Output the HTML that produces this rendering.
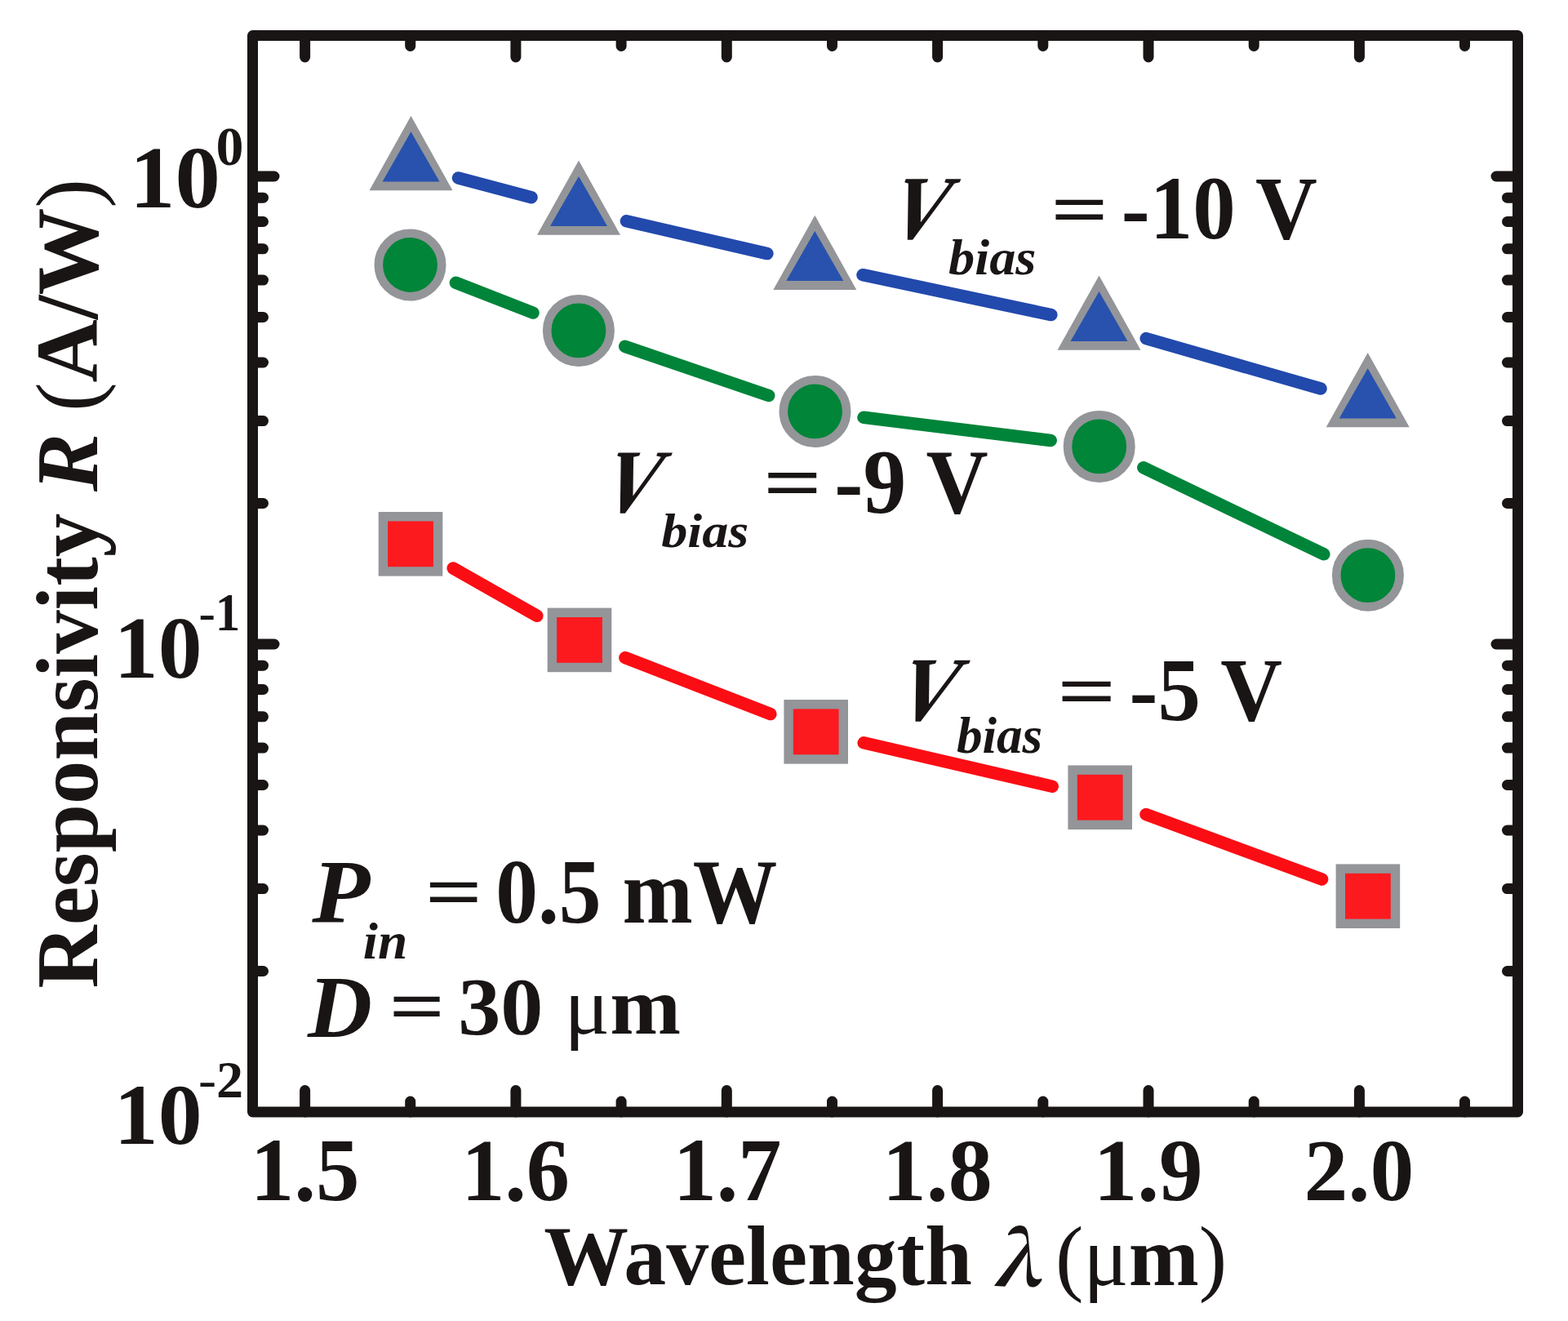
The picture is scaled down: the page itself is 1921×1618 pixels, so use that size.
<!DOCTYPE html>
<html><head><meta charset="utf-8"><title>Responsivity vs Wavelength</title>
<style>html,body{margin:0;padding:0;background:#fff;width:1921px;height:1618px;overflow:hidden}svg{display:block}</style>
</head><body>
<svg width="1921" height="1618" viewBox="0 0 1921 1618" font-family="'Liberation Serif', 'Times New Roman', serif" fill="#1a1515">
<rect width="1921" height="1618" fill="#ffffff"/>
<rect x="309.5" y="43.5" width="1550.0" height="1318.5" fill="none" stroke="#1a1515" stroke-width="13" stroke-linejoin="round"/>
<path d="M373.6 1362.0v-26.5M373.6 43.5v26.5M631.9 1362.0v-26.5M631.9 43.5v26.5M890.3 1362.0v-26.5M890.3 43.5v26.5M1148.6 1362.0v-26.5M1148.6 43.5v26.5M1407.0 1362.0v-26.5M1407.0 43.5v26.5M1665.4 1362.0v-26.5M1665.4 43.5v26.5M502.7 1362.0v-13M502.7 43.5v13M761.1 1362.0v-13M761.1 43.5v13M1019.5 1362.0v-13M1019.5 43.5v13M1277.8 1362.0v-13M1277.8 43.5v13M1536.2 1362.0v-13M1536.2 43.5v13M1794.5 1362.0v-13M1794.5 43.5v13M309.5 216.0h26.5M1859.5 216.0h-26.5M309.5 789.0h26.5M1859.5 789.0h-26.5M309.5 1189.5h13M1859.5 1189.5h-13M309.5 1088.6h13M1859.5 1088.6h-13M309.5 1017.0h13M1859.5 1017.0h-13M309.5 961.5h13M1859.5 961.5h-13M309.5 916.1h13M1859.5 916.1h-13M309.5 877.8h13M1859.5 877.8h-13M309.5 844.5h13M1859.5 844.5h-13M309.5 815.2h13M1859.5 815.2h-13M309.5 616.5h13M1859.5 616.5h-13M309.5 515.6h13M1859.5 515.6h-13M309.5 444.0h13M1859.5 444.0h-13M309.5 388.5h13M1859.5 388.5h-13M309.5 343.1h13M1859.5 343.1h-13M309.5 304.8h13M1859.5 304.8h-13M309.5 271.5h13M1859.5 271.5h-13M309.5 242.2h13M1859.5 242.2h-13" stroke="#1a1515" stroke-width="13" stroke-linecap="round" fill="none"/>
<path d="M561.5 217.9L651.0 241.7M767.4 270.7L939.9 310.6M1057.0 336.7L1287.8 385.6M1404.2 414.6L1618.0 476.0" stroke="#2249ac" stroke-width="15.5" stroke-linecap="round" fill="none"/>
<path d="M558.4 346.3L653.0 383.1M765.7 424.3L941.7 484.5M1058.0 511.3L1287.2 539.5M1400.8 572.8L1621.8 678.8" stroke="#00843a" stroke-width="15.5" stroke-linecap="round" fill="none"/>
<path d="M555.2 695.9L657.8 754.3M765.9 805.6L943.8 874.6M1058.2 909.8L1289.2 963.2M1404.0 997.5L1619.6 1076.9" stroke="#fb0d14" stroke-width="15.5" stroke-linecap="round" fill="none"/>
<polygon points="503.5,142.0 452.5,233.2 554.5,233.2" fill="#939599"/>
<polygon points="503.5,161.3 468.5,222.4 538.5,222.4" fill="#2852ad"/>
<polygon points="709.0,196.6 658.0,287.8 760.0,287.8" fill="#939599"/>
<polygon points="709.0,215.9 674.0,277.0 744.0,277.0" fill="#2852ad"/>
<polygon points="998.3,263.7 947.3,354.9 1049.3,354.9" fill="#939599"/>
<polygon points="998.3,283.0 963.3,344.1 1033.3,344.1" fill="#2852ad"/>
<polygon points="1346.5,337.6 1295.5,428.8 1397.5,428.8" fill="#939599"/>
<polygon points="1346.5,356.9 1311.5,418.0 1381.5,418.0" fill="#2852ad"/>
<polygon points="1675.7,432.0 1624.7,523.2 1726.7,523.2" fill="#939599"/>
<polygon points="1675.7,451.3 1640.7,512.4 1710.7,512.4" fill="#2852ad"/>
<circle cx="502.5" cy="324.5" r="38.7" fill="#008539" stroke="#939599" stroke-width="10.6"/>
<circle cx="708.9" cy="404.9" r="38.7" fill="#008539" stroke="#939599" stroke-width="10.6"/>
<circle cx="998.5" cy="503.9" r="38.7" fill="#008539" stroke="#939599" stroke-width="10.6"/>
<circle cx="1346.7" cy="546.9" r="38.7" fill="#008539" stroke="#939599" stroke-width="10.6"/>
<circle cx="1675.9" cy="704.7" r="38.7" fill="#008539" stroke="#939599" stroke-width="10.6"/>
<rect x="469.4" y="632.7" width="67.2" height="67.2" fill="#fc1a1f" stroke="#939599" stroke-width="11.4"/>
<rect x="676.4" y="750.3" width="67.2" height="67.2" fill="#fc1a1f" stroke="#939599" stroke-width="11.4"/>
<rect x="966.1" y="862.7" width="67.2" height="67.2" fill="#fc1a1f" stroke="#939599" stroke-width="11.4"/>
<rect x="1314.1" y="943.1" width="67.2" height="67.2" fill="#fc1a1f" stroke="#939599" stroke-width="11.4"/>
<rect x="1642.3" y="1064.1" width="67.2" height="67.2" fill="#fc1a1f" stroke="#939599" stroke-width="11.4"/>
<text transform="matrix(1.0253,0,0,1.0000,159.07,254.00)" font-size="108" font-weight="bold" xml:space="preserve">10</text>
<text transform="matrix(1.0464,0,0,1.0465,264.41,202.00)" font-size="65" font-weight="bold" xml:space="preserve">0</text>
<text transform="matrix(0.9968,0,0,0.9945,139.83,829.61)" font-size="108" font-weight="bold" xml:space="preserve">10</text>
<text transform="matrix(0.9388,0,0,1.0000,243.42,772.00)" font-size="65" font-weight="bold" xml:space="preserve"><tspan font-weight="normal">-</tspan>1</text>
<text transform="matrix(0.9968,0,0,0.9822,139.83,1401.42)" font-size="108" font-weight="bold" xml:space="preserve">10</text>
<text transform="matrix(1.0184,0,0,0.9884,242.96,1344.00)" font-size="65" font-weight="bold" xml:space="preserve"><tspan font-weight="normal">-</tspan>2</text>
<text transform="matrix(0.9910,0,0,1.0137,306.68,1469.97)" font-size="108" font-weight="bold" xml:space="preserve">1.5</text>
<text transform="matrix(0.9837,0,0,1.0000,565.15,1470.00)" font-size="108" font-weight="bold" xml:space="preserve">1.6</text>
<text transform="matrix(0.9837,0,0,1.0137,824.65,1469.97)" font-size="108" font-weight="bold" xml:space="preserve">1.7</text>
<text transform="matrix(1.0008,0,0,1.0000,1080.79,1470.00)" font-size="108" font-weight="bold" xml:space="preserve">1.8</text>
<text transform="matrix(0.9918,0,0,1.0000,1339.77,1470.00)" font-size="108" font-weight="bold" xml:space="preserve">1.9</text>
<text transform="matrix(0.9976,0,0,1.0000,1597.61,1470.00)" font-size="108" font-weight="bold" xml:space="preserve">2.0</text>
<text transform="matrix(0.9611,0,0,0.9596,666.18,1572.97)" font-size="108" font-weight="bold" xml:space="preserve">Wavelength</text>
<text transform="matrix(0.8500,0,0,0.8367,1216.30,1574.83)" font-size="108" font-family="'Noto Serif CJK SC', 'Liberation Serif', serif" font-style="italic" font-weight="bold" xml:space="preserve">λ</text>
<text transform="matrix(0.9567,0,0,0.9694,1292.92,1573.70)" font-size="108" font-weight="bold" xml:space="preserve"><tspan font-weight="normal">(μ</tspan>m<tspan font-weight="normal">)</tspan></text>
<text transform="matrix(0.8948,0,0,1.0288,1080.56,292.14) skewX(-24)" font-size="108" font-weight="bold" xml:space="preserve">V</text>
<text transform="matrix(0.9905,0,0,0.9478,1162.11,336.40)" font-size="65" font-weight="bold" font-style="italic" xml:space="preserve">bias</text>
<text transform="matrix(1.1510,0,0,0.8414,1287.35,286.77)" font-size="108" font-weight="bold" xml:space="preserve">=</text>
<text transform="matrix(0.9719,0,0,1.0257,1373.81,292.15)" font-size="108" font-weight="bold" xml:space="preserve">-10 V</text>
<text transform="matrix(0.8766,0,0,1.0274,729.02,626.65) skewX(-24)" font-size="108" font-weight="bold" xml:space="preserve">V</text>
<text transform="matrix(0.9886,0,0,0.9239,810.21,670.00)" font-size="65" font-weight="bold" font-style="italic" xml:space="preserve">bias</text>
<text transform="matrix(1.1725,0,0,0.8552,935.04,622.46)" font-size="108" font-weight="bold" xml:space="preserve">=</text>
<text transform="matrix(0.9766,0,0,1.0311,1022.29,627.94)" font-size="108" font-weight="bold" xml:space="preserve">-9 V</text>
<text transform="matrix(0.9195,0,0,1.0342,1089.20,881.63) skewX(-24)" font-size="108" font-weight="bold" xml:space="preserve">V</text>
<text transform="matrix(0.9714,0,0,0.9609,1171.93,921.70)" font-size="65" font-weight="bold" font-style="italic" xml:space="preserve">bias</text>
<text transform="matrix(1.1765,0,0,0.8483,1295.22,876.81)" font-size="108" font-weight="bold" xml:space="preserve">=</text>
<text transform="matrix(0.9707,0,0,1.0096,1383.62,881.68)" font-size="108" font-weight="bold" xml:space="preserve">-5 V</text>
<text transform="matrix(1.0776,0,0,1.0155,382.30,1129.00)" font-size="108" font-weight="bold" font-style="italic" xml:space="preserve">P</text>
<text transform="matrix(1.0041,0,0,0.9696,444.79,1173.60)" font-size="65" font-weight="bold" font-style="italic" xml:space="preserve">in</text>
<text transform="matrix(1.1451,0,0,0.8483,520.87,1122.61)" font-size="108" font-weight="bold" xml:space="preserve">=</text>
<text transform="matrix(0.9590,0,0,1.0351,607.16,1129.93)" font-size="108" font-weight="bold" xml:space="preserve">0.5 mW</text>
<text transform="matrix(1.0118,0,0,0.9944,377.11,1270.30)" font-size="108" font-weight="bold" font-style="italic" xml:space="preserve">D</text>
<text transform="matrix(1.1176,0,0,0.8483,476.41,1263.41)" font-size="108" font-weight="bold" xml:space="preserve">=</text>
<text transform="matrix(0.9646,0,0,0.9263,561.14,1265.69)" font-size="108" font-weight="bold" xml:space="preserve">30 <tspan font-weight="normal">μ</tspan>m</text>
<text transform="matrix(0,-0.9893,0.9918,0,118.89,1210.48)" font-size="108" font-weight="bold" xml:space="preserve">Responsivity <tspan font-style="italic">R</tspan> <tspan font-weight="normal">(</tspan>A/W<tspan font-weight="normal">)</tspan></text>
</svg>
</body></html>
